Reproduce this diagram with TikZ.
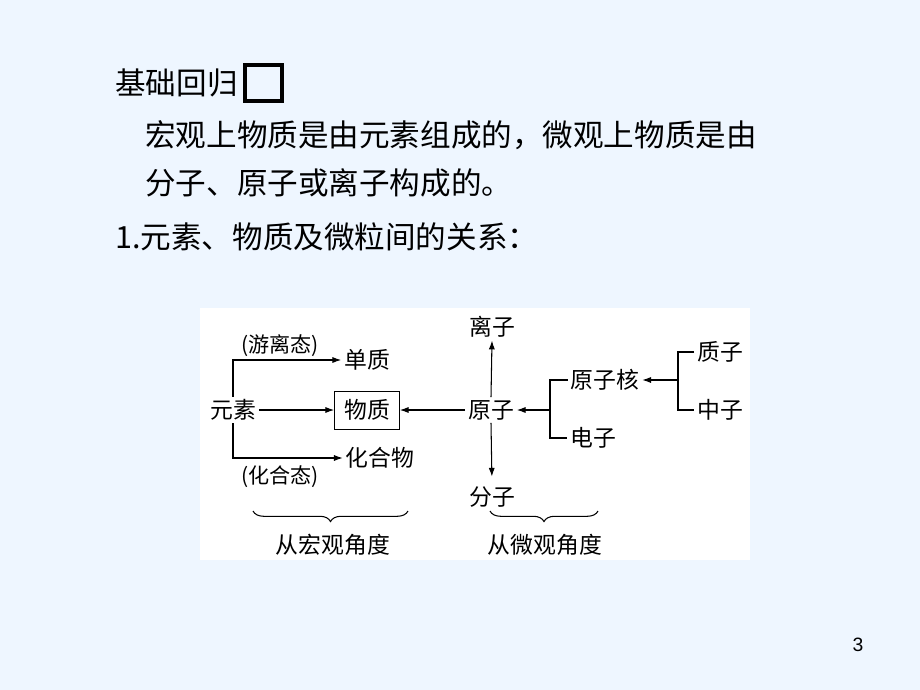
\documentclass[tikz,border=0pt]{standalone}
\usepackage{fontspec}
\setmainfont{Noto Sans CJK SC}
\newfontfamily\numfont{Liberation Sans}
\usetikzlibrary{positioning}
\usetikzlibrary{arrows.meta,decorations.pathreplacing}
\definecolor{slidebg}{RGB}{238,246,255}

\tikzset{
  head/.style={anchor=west, inner sep=0pt, font=\fontsize{17.4}{20}\selectfont},
  item/.style={inner sep=1.5pt, font=\fontsize{13}{15}\selectfont},
  state/.style={inner sep=0pt, font=\fontsize{12}{14}\selectfont},
  arr/.style={line width=0.6pt, -{Latex[length=5pt,width=3.5pt]}},
  lnk/.style={line width=0.6pt},
  brc/.style={line width=0.6pt, decorate, decoration={brace, mirror, amplitude=6pt}},
}

\begin{document}
\begin{tikzpicture}[x=0.02cm, y=-0.02cm]
    \fill[slidebg] (0,0) rectangle (920,690);
    \useasboundingbox (0,0) rectangle (920,690);
    \fill[white] (200,308) rectangle (750,560);

    % heading and text lines
    \node[head] (jc) at (115,83) {基础回归};
    \node[draw, line width=2.3pt, minimum width=0.74cm, minimum height=0.72cm, inner sep=0pt, right=3pt of jc] (sq) {};
    \node[head] (l1) at (145,135) {宏观上物质是由元素组成的，微观上物质是由};
    \node[head] (l2) at (145,183) {分子、原子或离子构成的。};
    \node[head] (l3) at (115,237) {1.元素、物质及微粒间的关系：};

    % macro side
    \node[item] (ys) at (233,410) {元素};
    \node[item] (dz) at (367,360) {单质};
    \node[item] (hhw) at (380,458) {化合物};
    \node[item, draw, minimum width=1.3cm, minimum height=0.76cm] (wz) at (367,410) {物质};
    \node[state] (yl) at (280,346) {(游离态)};
    \node[state] (hh) at (280,477) {(化合态)};
    \draw[arr] (ys.north) |- (dz.west);
    \draw[arr] (ys.south) |- (hhw.west);
    \draw[arr] (ys.east) -- (wz.west);

    % micro side
    \node[item] (yz) at (491,410) {原子};
    \node[item] (lz) at (492,327) {离子};
    \node[item] (fz) at (492,497) {分子};
    \node[item] (yzh) at (605,380) {原子核};
    \node[item] (dzi) at (593,438) {电子};
    \node[item] (zhz) at (720,352) {质子};
    \node[item] (zz) at (720,410) {中子};
    \draw[arr] (yz.west) -- (wz.east);
    \draw[arr] (yz.north) -- (lz.south);
    \draw[arr, shorten >=4pt] (yz.south) -- (fz.north);
    \coordinate (b1) at (550,410);
    \coordinate (b2) at (678,380);
    \draw[lnk] (yzh.west) -| (b1) |- (dzi.west);
    \draw[arr] (b1) -- (yz.east);
    \draw[lnk] (zhz.west) -| (b2) |- (zz.west);
    \draw[arr] (b2) -- (yzh.east);

    % braces
    \draw[brc] (253,511) -- (408,511);
    \draw[brc] (490,511) -- (598,511);
    \node[item] (hg) at (333,545) {从宏观角度};
    \node[item] (wg) at (545,545) {从微观角度};

    \node[font=\numfont\fontsize{11}{13}\selectfont] (pg) at (858,645) {3};
\end{tikzpicture}
\end{document}
